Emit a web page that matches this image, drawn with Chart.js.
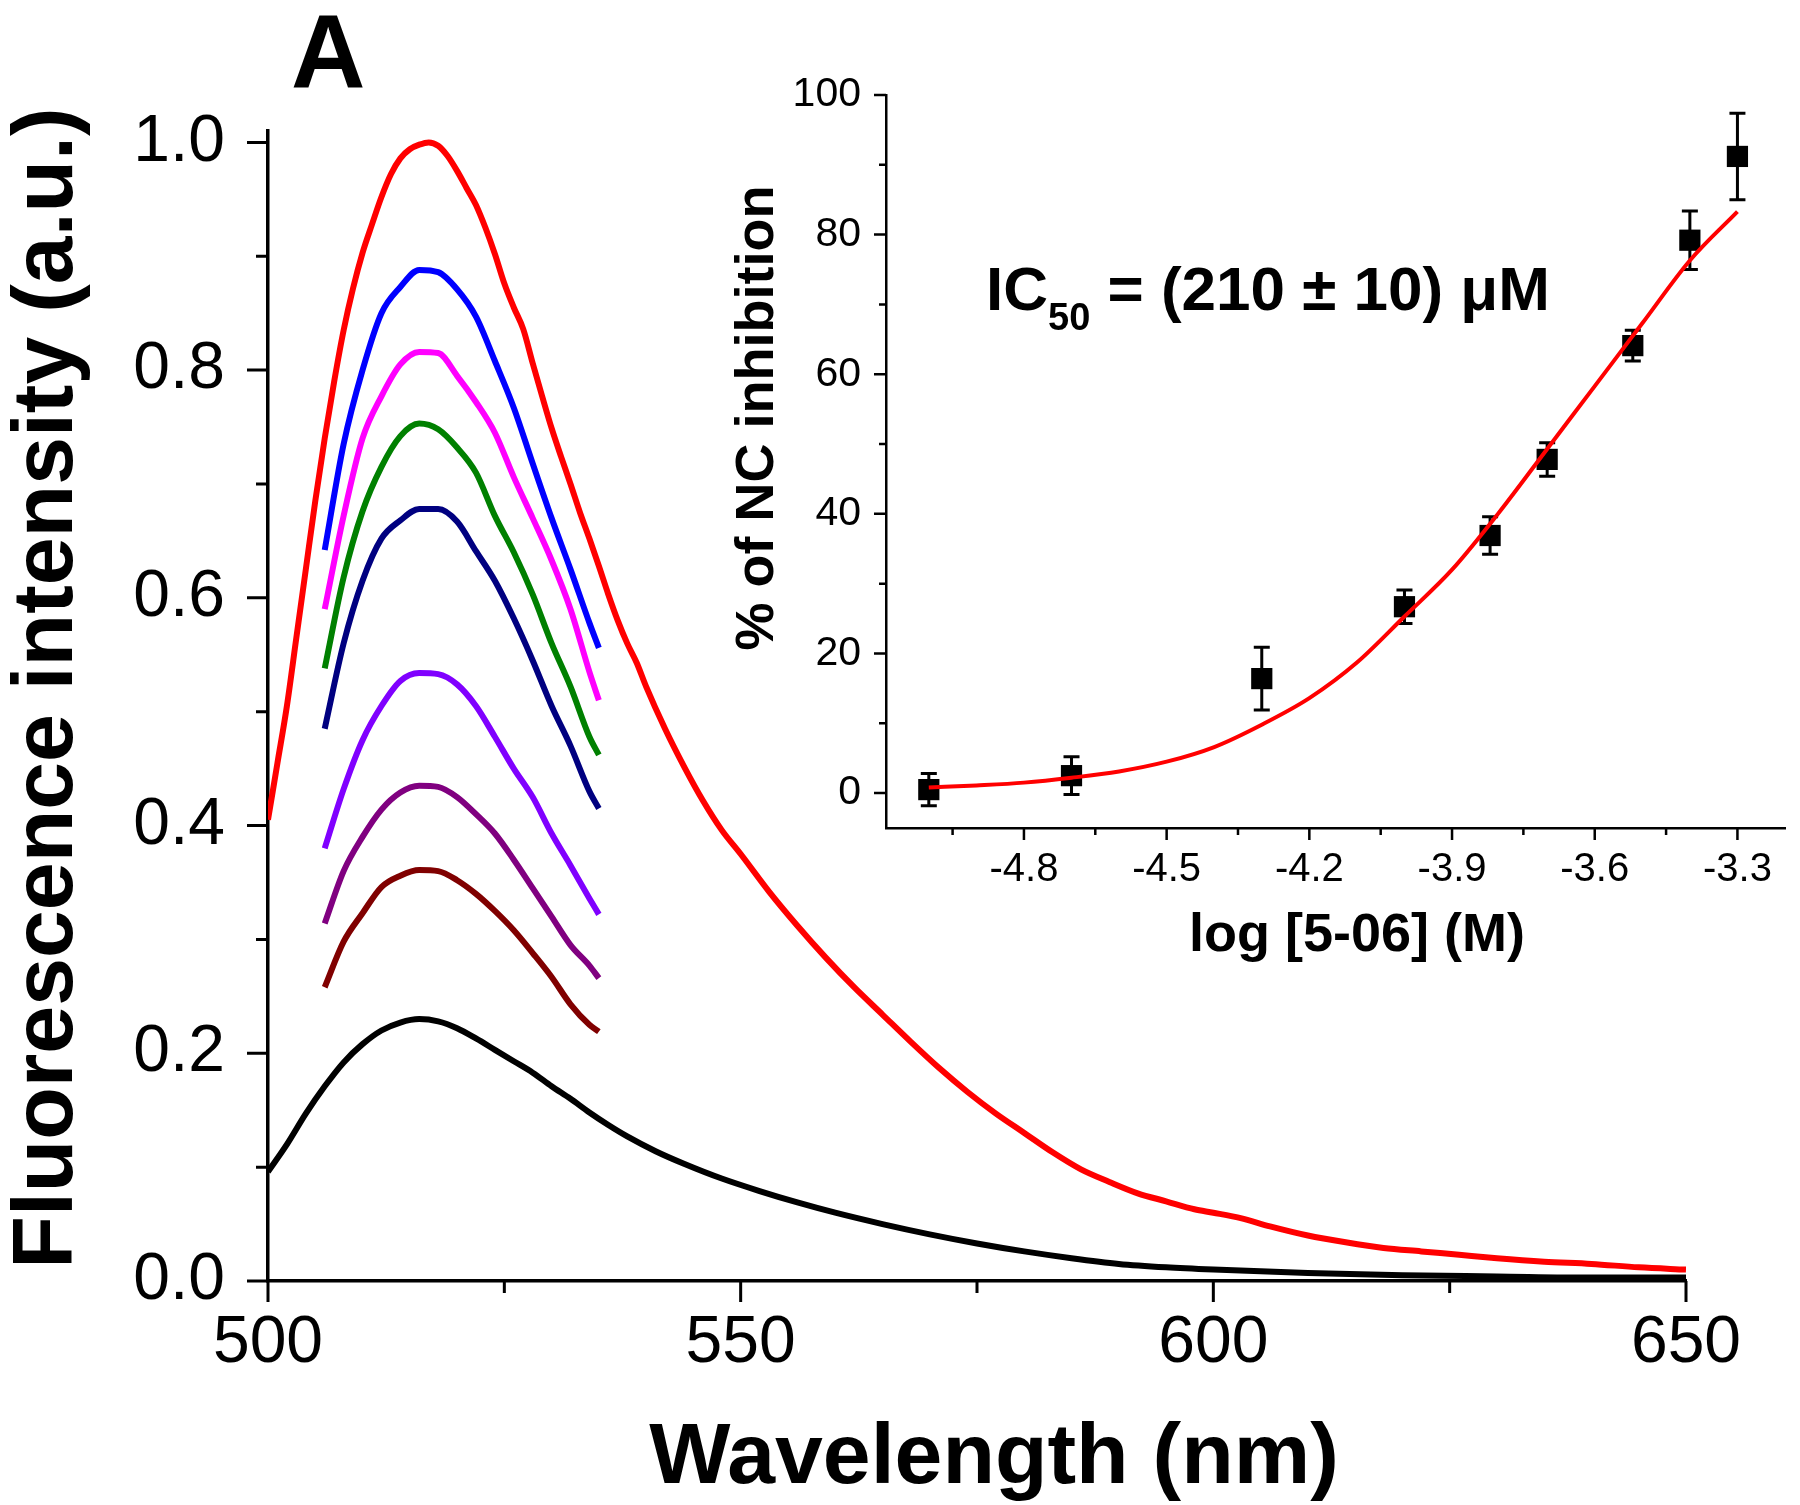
<!DOCTYPE html>
<html>
<head>
<meta charset="utf-8">
<script src="https://cdn.jsdelivr.net/npm/chart.js@4.4.1/dist/chart.umd.min.js"></script>
<style>
  html, body { margin: 0; padding: 0; background: #fff; }
  #wrap { position: relative; width: 1800px; height: 1505px; }
  #main { position: absolute; left: 0; top: 0; width: 1800px; height: 1505px; }
  #inset { position: absolute; left: 700px; top: 40px; width: 1100px; height: 960px; }
</style>
</head>
<body>
<div id="wrap">
  <canvas id="main" width="1800" height="1505"></canvas>
  <canvas id="inset" width="1100" height="960"></canvas>
</div>
<script>
const FONT = '"Liberation Sans", Arial, Helvetica, sans-serif';

// main panel: emission spectra
const wavelengthTicks = [500, 550, 600, 650];
const wavelengthMinor = [525, 575, 625];
const intensityTicks = [0, 0.2, 0.4, 0.6, 0.8, 1.0];
const intensityMinor = [0.1, 0.3, 0.5, 0.7, 0.9];

const redWl = [500,501,502,503,504,505,506,507,508,509,510,511,512,513,514,515,516,517,518,519,
  520,521,522,523,524,525,526,527,528,529,530,531,532,533,534,535,536,537,538,539,540,
  542,544,546,548,550,553,556,559,562,565,568,571,574,577,580,583,586,589,592,595,598,
  600,603,606,610,614,618,622,626,630,635,640,645,650];
const redY = [.405,.455,.505,.565,.625,.685,.74,.79,.835,.872,.903,.928,.952,.972,.986,.994,.998,1.0,.997,.988,
  .975,.96,.945,.925,.902,.876,.855,.836,.806,.777,.749,.724,.7,.675,.652,.628,.603,.58,.56,.543,.522,
  .485,.452,.422,.396,.375,.342,.312,.284,.258,.234,.21,.187,.166,.147,.13,.113,.098,.087,.077,.07,.063,
  .06,.055,.048,.04,.034,.029,.026,.023,.02,.017,.015,.012,.01];

const blackWl = [500,502,504,506,508,510,512,514,516,518,520,522,524,526,528,530,532,534,536,538,
  541,544,548,552,556,560,565,570,575,580,585,590,595,600,610,620,630,640,650];
const blackY = [.096,.12,.147,.171,.192,.208,.22,.227,.23,.228,.222,.213,.203,.193,.183,.171,.16,.148,.137,.127,
  .114,.103,.09,.079,.069,.06,.05,.041,.033,.026,.02,.015,.012,.01,.007,.005,.004,.003,.003];

const shortWl = [506,508,510,512,514,516,518,520,522,524,526,528,530,532,534,535];
const blueY    = [.642,.735,.80,.85,.873,.888,.886,.871,.847,.808,.767,.718,.67,.625,.578,.556];
const magentaY = [.59,.672,.74,.777,.805,.816,.815,.795,.772,.745,.706,.67,.633,.59,.535,.51];
const greenY   = [.538,.618,.676,.715,.742,.753,.748,.732,.71,.672,.64,.603,.56,.522,.478,.462];
const navyY    = [.485,.56,.615,.652,.668,.678,.678,.667,.641,.615,.582,.545,.505,.47,.43,.415];
const violetY  = [.38,.432,.475,.505,.527,.534,.533,.524,.505,.478,.45,.425,.393,.365,.336,.322];
const purpleY  = [.314,.36,.39,.414,.429,.435,.434,.425,.41,.393,.37,.345,.32,.295,.277,.266];
const maroonY  = [.258,.298,.323,.346,.356,.361,.36,.352,.34,.325,.308,.288,.267,.243,.225,.219];

// inset: dose response
const logConc = [-5.0, -4.7, -4.3, -4.0, -3.82, -3.7, -3.52, -3.4, -3.3];
const inhibition = [0.5, 2.5, 16.4, 26.7, 36.9, 47.8, 64.1, 79.2, 91.2];
const inhibitionErr = [2.3, 2.7, 4.5, 2.4, 2.7, 2.4, 2.2, 4.2, 6.2];
const fitX = [-5.0,-4.9,-4.8,-4.7,-4.6,-4.5,-4.4,-4.3,-4.2,-4.1,-4.0,-3.9,-3.8,-3.7,-3.6,-3.5,-3.4,-3.3];
const fitY = [0.8,1.1,1.5,2.2,3.1,4.5,6.6,9.8,13.6,18.7,25.3,32.0,40.3,49.3,58.3,67.3,76.3,83.3];
const logTicks = [-4.8, -4.5, -4.2, -3.9, -3.6, -3.3];
const logMinor = [-4.95, -4.65, -4.35, -4.05, -3.75, -3.45];
const pctTicks = [0, 20, 40, 60, 80, 100];
const pctMinor = [10, 30, 50, 70, 90];

function pts(xs, ys) {
  return xs.map((x, i) => ({ x: x, y: ys[i] }));
}

function spectrum(xs, ys, color) {
  return {
    data: pts(xs, ys),
    borderColor: color,
    borderWidth: 6,
    pointRadius: 0,
    cubicInterpolationMode: 'monotone',
    fill: false
  };
}

function drawTicks(chart, id, majors, minors, majorLen, minorLen, width) {
  const s = chart.scales[id];
  const a = chart.chartArea;
  const ctx = chart.ctx;
  ctx.save();
  ctx.strokeStyle = '#000';
  ctx.lineWidth = width;
  ctx.beginPath();
  const one = (v, len) => {
    const p = s.getPixelForValue(v);
    if (s.isHorizontal()) {
      ctx.moveTo(p, a.bottom);
      ctx.lineTo(p, a.bottom + len);
    } else {
      ctx.moveTo(a.left, p);
      ctx.lineTo(a.left - len, p);
    }
  };
  majors.forEach(v => one(v, majorLen));
  minors.forEach(v => one(v, minorLen));
  ctx.stroke();
  ctx.restore();
}

function text(ctx, str, x, y, size, align, rot) {
  ctx.save();
  ctx.translate(x, y);
  if (rot) ctx.rotate(rot);
  ctx.font = 'bold ' + size + 'px ' + FONT;
  ctx.fillStyle = '#000';
  ctx.textAlign = align;
  ctx.textBaseline = 'alphabetic';
  ctx.fillText(str, 0, 0);
  ctx.restore();
}

const mainDecor = {
  id: 'mainDecor',
  afterDraw(chart) {
    const ctx = chart.ctx;
    drawTicks(chart, 'x', wavelengthTicks, wavelengthMinor, 21, 12, 3);
    drawTicks(chart, 'y', intensityTicks, intensityMinor, 21, 12, 3);
    text(ctx, 'A', 291, 87, 103, 'left');
    text(ctx, 'Wavelength (nm)', 994, 1483, 86, 'center');
    text(ctx, 'Fluorescence intensity (a.u.)', 72, 688, 86, 'center', -Math.PI / 2);
  }
};

new Chart(document.getElementById('main'), {
  type: 'line',
  data: {
    datasets: [
      spectrum(redWl, redY, '#ff0000'),
      spectrum(shortWl, blueY, '#0000ff'),
      spectrum(shortWl, magentaY, '#ff00ff'),
      spectrum(shortWl, greenY, '#008000'),
      spectrum(shortWl, navyY, '#000080'),
      spectrum(shortWl, violetY, '#8000ff'),
      spectrum(shortWl, purpleY, '#800080'),
      spectrum(shortWl, maroonY, '#800000'),
      spectrum(blackWl, blackY, '#000000')
    ]
  },
  options: {
    responsive: false,
    animation: false,
    devicePixelRatio: 1,
    events: [],
    layout: { padding: { top: 131, right: 114, left: 0, bottom: 0 } },
    plugins: { legend: { display: false }, tooltip: { enabled: false } },
    scales: {
      x: {
        type: 'linear', min: 500, max: 650,
        grid: { display: false, drawTicks: false },
        border: { display: true, color: '#000', width: 3.5 },
        afterBuildTicks: s => { s.ticks = wavelengthTicks.map(v => ({ value: v })); },
        afterFit: s => { s.height = 224; },
        ticks: {
          autoSkip: false, maxRotation: 0, minRotation: 0, padding: 23,
          color: '#000', font: { family: FONT, size: 66 },
          callback: v => String(v)
        }
      },
      y: {
        type: 'linear', min: 0, max: 1.01,
        grid: { display: false, drawTicks: false },
        border: { display: true, color: '#000', width: 3.5 },
        afterBuildTicks: s => { s.ticks = intensityTicks.map(v => ({ value: v })); },
        afterFit: s => { s.width = 268; },
        ticks: {
          autoSkip: false, padding: 43,
          color: '#000', font: { family: FONT, size: 66 },
          callback: v => v.toFixed(1)
        }
      }
    }
  },
  plugins: [mainDecor]
});

const insetDecor = {
  id: 'insetDecor',
  beforeDatasetsDraw(chart) {
    const ctx = chart.ctx;
    const xs = chart.scales.x, ys = chart.scales.y;
    ctx.save();
    ctx.strokeStyle = '#000';
    ctx.lineWidth = 3;
    ctx.beginPath();
    logConc.forEach((c, i) => {
      const px = xs.getPixelForValue(c);
      const top = ys.getPixelForValue(inhibition[i] + inhibitionErr[i]);
      const bot = ys.getPixelForValue(inhibition[i] - inhibitionErr[i]);
      ctx.moveTo(px, top); ctx.lineTo(px, bot);
      ctx.moveTo(px - 8, top); ctx.lineTo(px + 8, top);
      ctx.moveTo(px - 8, bot); ctx.lineTo(px + 8, bot);
    });
    ctx.stroke();
    ctx.restore();
  },
  afterDraw(chart) {
    const ctx = chart.ctx;
    drawTicks(chart, 'x', logTicks, logMinor, 12, 7, 2.5);
    drawTicks(chart, 'y', pctTicks, pctMinor, 12, 7, 2.5);
    text(ctx, 'log [5-06] (M)', 657, 911, 54, 'center');
    text(ctx, '% of NC inhibition', 73, 378, 54, 'center', -Math.PI / 2);
    // IC50 label with subscript
    ctx.save();
    ctx.fillStyle = '#000';
    ctx.textBaseline = 'alphabetic';
    let x = 286;
    ctx.font = 'bold 62px ' + FONT;
    ctx.fillText('IC', x, 270);
    x += ctx.measureText('IC').width;
    ctx.font = 'bold 38px ' + FONT;
    ctx.fillText('50', x, 290);
    x += ctx.measureText('50').width;
    ctx.font = 'bold 62px ' + FONT;
    ctx.fillText(' = (210 ± 10) μM', x, 270);
    ctx.restore();
  }
};

new Chart(document.getElementById('inset'), {
  type: 'line',
  data: {
    datasets: [
      {
        data: pts(fitX, fitY),
        borderColor: '#ff0000',
        borderWidth: 4,
        pointRadius: 0,
        cubicInterpolationMode: 'monotone',
        fill: false
      },
      {
        data: pts(logConc, inhibition),
        showLine: false,
        pointStyle: 'rect',
        pointRadius: 15,
        pointBackgroundColor: '#000',
        pointBorderColor: '#000',
        pointBorderWidth: 0
      }
    ]
  },
  options: {
    responsive: false,
    animation: false,
    devicePixelRatio: 1,
    events: [],
    layout: { padding: { top: 55, right: 13, left: 0, bottom: 0 } },
    plugins: { legend: { display: false }, tooltip: { enabled: false } },
    scales: {
      x: {
        type: 'linear', min: -5.09, max: -3.2,
        grid: { display: false, drawTicks: false },
        border: { display: true, color: '#000', width: 2.5 },
        afterBuildTicks: s => { s.ticks = logTicks.map(v => ({ value: v })); },
        afterFit: s => { s.height = 172; },
        ticks: {
          autoSkip: false, maxRotation: 0, minRotation: 0, padding: 18,
          color: '#000', font: { family: FONT, size: 40 },
          callback: v => v.toFixed(1)
        }
      },
      y: {
        type: 'linear', min: -5, max: 100,
        grid: { display: false, drawTicks: false },
        border: { display: true, color: '#000', width: 2.5 },
        afterBuildTicks: s => { s.ticks = pctTicks.map(v => ({ value: v })); },
        afterFit: s => { s.width = 186; },
        ticks: {
          autoSkip: false, padding: 25,
          color: '#000', font: { family: FONT, size: 41 },
          callback: v => String(v)
        }
      }
    }
  },
  plugins: [insetDecor]
});
</script>
</body>
</html>
